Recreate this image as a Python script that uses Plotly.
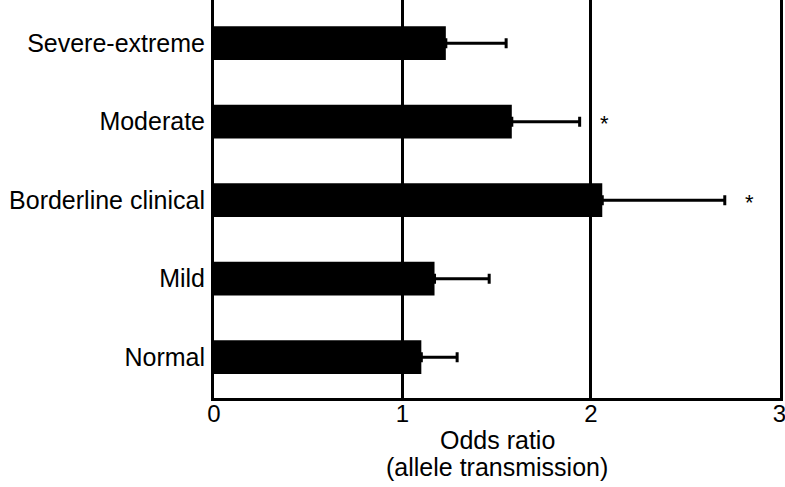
import plotly.graph_objects as go

# data (bottom to top)
categories = ["Normal", "Mild", "Borderline clinical", "Moderate", "Severe-extreme"]
odds_ratio = [1.10, 1.17, 2.06, 1.58, 1.23]
ci_upper = [0.19, 0.29, 0.65, 0.36, 0.32]
sig_cats = ["Moderate", "Borderline clinical"]
sig_x = [2.07, 2.84]
x_title = ["Odds ratio", "(allele transmission)"]

font = "Liberation Sans, Arial, Helvetica, sans-serif"

fig = go.Figure(go.Bar(
    x=odds_ratio, y=categories, orientation="h",
    marker=dict(color="black", line=dict(width=0)),
    width=0.43,
    error_x=dict(type="data", symmetric=False, array=ci_upper,
                 arrayminus=[0] * len(odds_ratio),
                 color="black", thickness=3, width=5),
))

for c, xv in zip(sig_cats, sig_x):
    fig.add_annotation(x=xv, y=c, text="*", showarrow=False,
                       font=dict(family=font, size=22, color="black"),
                       yshift=-2)

# two-line axis title, placed as annotations for tighter line spacing
for txt, yp in zip(x_title, [-0.106, -0.174]):
    fig.add_annotation(x=0.5, y=yp, xref="paper", yref="paper", text=txt,
                       showarrow=False, yanchor="middle",
                       font=dict(family=font, size=25, color="black"))

fig.update_layout(
    width=785, height=487,
    margin=dict(l=214, r=5, t=0, b=89),
    plot_bgcolor="white", paper_bgcolor="white",
    showlegend=False,
    font=dict(family=font, size=25, color="black"),
    xaxis=dict(
        range=[0, 3.003], tickvals=[0, 1, 2, 3],
        showgrid=True, gridcolor="black", gridwidth=3,
        showline=True, linecolor="black", linewidth=3,
        zeroline=False, ticks="", ticklabelstandoff=-8,
        ticklabeloverflow="allow",
        tickfont=dict(size=24), automargin=False,
    ),
    yaxis=dict(
        range=[-0.52, 4.55],
        showgrid=False, zeroline=False,
        showline=True, linecolor="black", linewidth=3, mirror=True,
        ticks="outside", ticklen=1, tickcolor="white",
        tickfont=dict(size=25), automargin=False,
    ),
)

# drop the page's default body margin so the figure sits at the window edge
fig.write_html("out.html", config={"displayModeBar": False},
               post_script="document.body.style.margin='0';")
